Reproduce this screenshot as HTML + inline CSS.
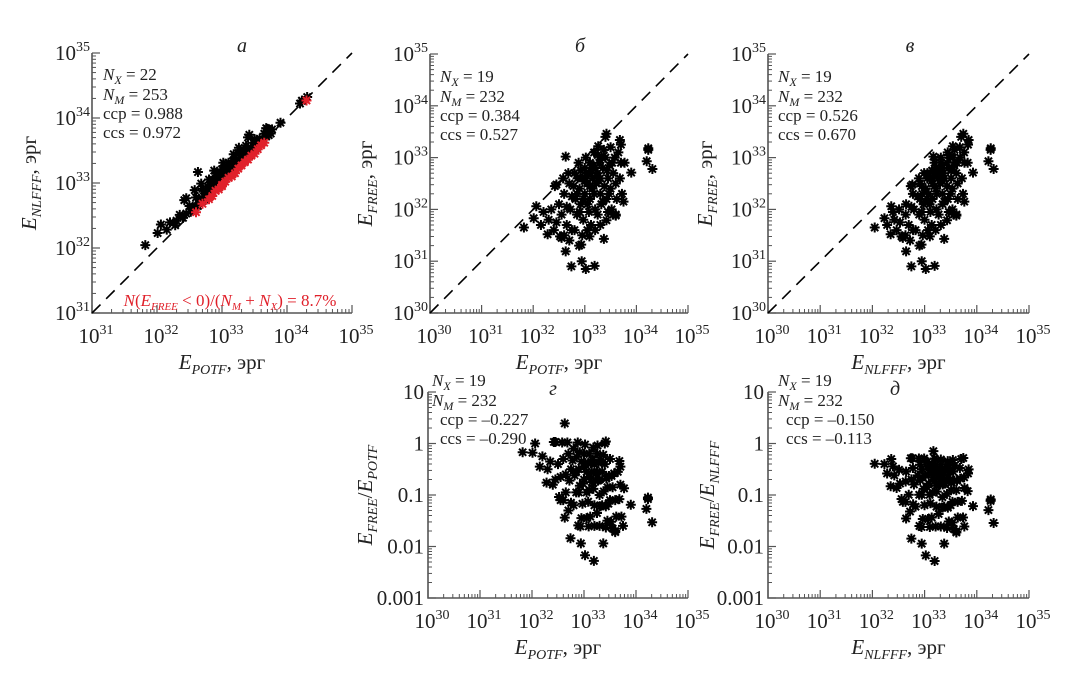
<!DOCTYPE html>
<html><head><meta charset="utf-8">
<style>
html,body{margin:0;padding:0;background:#fff;}
svg{display:block;font-family:"Liberation Serif","DejaVu Serif",serif;}
svg text{font-family:"Liberation Serif","DejaVu Serif",serif;}
</style></head>
<body>
<svg id="chart" width="1073" height="675" viewBox="0 0 1073 675" font-family="Liberation Serif, DejaVu Serif, serif" xmlns="http://www.w3.org/2000/svg"></svg>
<script>
// event data: log10 E_POTF and log10 E_FREE (erg)
const logPot = [31.82,32.74,32.94,33.02,33.19,32.63,32.89,32.93,32.28,32.55,32.52,33.09,33.37,33.42,33.6,33.55,34.23,34.23,34.2,34.31,33.9,33.77,33.42,33.4,33.68,33.7,33.26,32.63,32.06,32.01,32.45,32.42,32.2,32.3,32.15,
32.5,32.55,32.6,32.65,32.7,32.72,32.75,32.8,32.82,32.85,32.88,32.9,32.92,32.95,32.97,33.0,33.0,33.02,33.05,33.05,33.08,33.1,33.1,33.12,33.15,33.15,33.18,33.2,33.2,33.22,33.25,33.25,33.28,33.3,33.3,33.32,33.35,33.38,33.4,33.42,33.45,33.48,33.5,33.52,33.55,33.58,33.6,33.62,33.65,33.68,33.7,33.72,33.75,32.6,32.7,32.8,32.95,33.05,33.2,33.3,32.45,32.35,32.4,32.58,32.68,32.78,32.86,33.03,33.13,33.17,33.23,33.27,33.33,33.37,33.43,33.47,33.53,32.98,32.9,33.08,33.18,33.35,33.45,33.6,32.65,32.85,32.75,33.1,33.0,32.92,33.25,33.5];
const logFree = [31.65,30.90,31.0,30.85,30.91,31.19,31.30,31.32,31.52,31.45,31.48,31.48,31.43,31.79,31.88,31.9,33.18,33.15,32.93,32.78,32.71,32.9,33.46,33.4,33.34,33.25,33.22,33.02,32.06,31.83,32.48,32.45,31.95,31.8,31.7,
32.1,31.9,32.3,31.7,32.5,32.0,31.6,32.7,32.2,31.9,32.9,32.4,32.1,32.6,31.8,32.8,32.3,33.0,32.5,32.1,32.7,32.9,32.2,31.7,32.6,32.4,33.1,32.8,32.0,32.5,32.7,31.9,32.9,32.3,32.6,32.1,32.8,32.45,33.0,32.2,32.6,32.85,32.4,32.0,32.7,33.0,32.5,32.2,33.1,32.6,32.9,32.3,32.15,31.5,31.4,31.6,31.5,31.6,31.6,31.7,31.75,32.0,31.6,32.6,32.7,32.45,32.6,32.65,32.75,32.85,32.65,32.55,33.0,33.15,32.75,32.3,32.9,32.2,31.95,31.95,32.3,32.15,31.95,31.9,32.05,32.3,32.25,32.45,32.55,32.75,33.05,33.2];
// events with E_FREE < 0 (panel a, red): log10 E_POTF, log10 E_NLFFF
const redPot = [32.6,32.7,32.8,32.9,33.0,33.05,33.1,33.2,33.25,33.3,33.4,33.5,33.55,33.6,33.65,32.95,33.15,33.35,33.45,34.3,33.0,32.85];
const redNl  = [32.55,32.68,32.75,32.88,32.95,33.02,33.08,33.15,33.22,33.27,33.36,33.45,33.52,33.58,33.62,32.9,33.1,33.32,33.42,34.27,32.97,32.8];
const logNl = logPot.map((p,i)=>Math.log10(Math.pow(10,p)+Math.pow(10,logFree[i])));

const NS="http://www.w3.org/2000/svg";
const FF="Liberation Serif, DejaVu Serif, serif";
const svg=document.getElementById('chart');
function el(tag,attrs,parent){const e=document.createElementNS(NS,tag);for(const k in attrs)e.setAttribute(k,attrs[k]);if(tag==='text')e.setAttribute('font-family',FF);(parent||svg).appendChild(e);return e;}

function powLabel(g,x,y,exp,anchor){
  const t=el('text',{x:x,y:y,'font-size':21,'text-anchor':anchor||'middle',fill:'#222'},g);
  t.appendChild(document.createTextNode('10'));
  const s=el('tspan',{'font-size':14,dy:-9},t);s.textContent=exp;
  return t;
}

function panel(c){
  const g=el('g',{});
  
  
  const X=v=>c.x0+(v-c.xr[0])/(c.xr[1]-c.xr[0])*(c.x1-c.x0);
  const Y=v=>c.y1-(v-c.yr[0])/(c.yr[1]-c.yr[0])*(c.y1-c.y0);
  const ax=el('path',{d:`M${c.x0},${c.y0}V${c.y1}H${c.x1}`,stroke:'#555','stroke-width':1.6,fill:'none'},g);
  
  
  for(let d=c.xr[0];d<=c.xr[1];d++){
    el('line',{x1:X(d),x2:X(d),y1:c.y1,y2:c.y1-8,stroke:'#555','stroke-width':1.2},g);
    const lb=powLabel(g,X(d)+4,c.y1+30,d);
    
    
    if(d<c.xr[1])for(let k=2;k<10;k++){const xv=X(d+Math.log10(k));el('line',{x1:xv,x2:xv,y1:c.y1,y2:c.y1-4,stroke:'#555','stroke-width':1},g);}
  }
  for(let d=c.yr[0];d<=c.yr[1];d++){
    el('line',{x1:c.x0,x2:c.x0+8,y1:Y(d),y2:Y(d),stroke:'#555','stroke-width':1.2},g);
    let lb;
    if(c.ratio){lb=el('text',{x:c.x0-4,y:Y(d)+7,'font-size':21,'text-anchor':'end',fill:'#222'},g);lb.textContent=c.ylabs[d-c.yr[0]];}
    else{lb=powLabel(g,c.x0-2,Y(d)+7,d,'end');}
    
    
    if(d<c.yr[1])for(let k=2;k<10;k++){const yv=Y(d+Math.log10(k));el('line',{x1:c.x0,x2:c.x0+4,y1:yv,y2:yv,stroke:'#555','stroke-width':1},g);}
  }
  if(c.diag){
    const lo=Math.max(c.xr[0],c.yr[0]),hi=Math.min(c.xr[1],c.yr[1]);
    const dl=el('line',{x1:X(lo),y1:Y(lo),x2:X(hi),y2:Y(hi),stroke:'#000','stroke-width':1.6,'stroke-dasharray':'12 8'},g);
    
    
  }
  function star(x,y,col){
    const s=el('path',{d:`M${x-5},${y}h10M${x},${y-5}v10M${x-3.6},${y-3.6}l7.2,7.2M${x-3.6},${y+3.6}l7.2,-7.2`,stroke:col,'stroke-width':2,fill:'none'},g);
    
    
  }
  c.xs.forEach((xv,i)=>star(X(xv),Y(c.ys[i]),'#000'));
  if(c.rx)c.rx.forEach((xv,i)=>star(X(xv),Y(c.ry[i]),'#e0202a'));
  const tt=el('text',{x:c.tx,y:c.ty,'font-size':20,'font-style':'italic','text-anchor':'middle',fill:'#222'},g);
  tt.textContent=c.title;
  
  
  const st=el('g',{'font-size':17,fill:'#222'},g);
  
  
  const s1=el('text',{x:c.sx,y:c.sy},st);
  s1.innerHTML='<tspan font-style="italic">N</tspan><tspan font-style="italic" font-size="12" dy="4">X</tspan><tspan dy="-4"> = '+c.nx+'</tspan>';
  const s2=el('text',{x:c.sx,y:c.sy+20},st);
  s2.innerHTML='<tspan font-style="italic">N</tspan><tspan font-style="italic" font-size="12" dy="4">M</tspan><tspan dy="-4"> = '+c.nm+'</tspan>';
  const s3=el('text',{x:c.sx+c.ind,y:c.sy+39},st);s3.textContent='ccp = '+c.ccp;
  const s4=el('text',{x:c.sx+c.ind,y:c.sy+58},st);s4.textContent='ccs = '+c.ccs;
  const xt=el('text',{x:(c.x0+c.x1)/2,y:c.y1+56,'font-size':21,'text-anchor':'middle',fill:'#222'},g);
  xt.innerHTML='<tspan font-style="italic">E</tspan><tspan font-style="italic" font-size="14" dy="5">'+c.xsub+'</tspan><tspan dy="-5">, эрг</tspan>';
  
  
  const yc=(c.y0+c.y1)/2;
  const yt=el('text',{x:c.ylx,y:yc,'font-size':21,'text-anchor':'middle',fill:'#222',transform:`rotate(-90 ${c.ylx} ${yc})`},g);
  yt.innerHTML=c.ylab;
  
  
  return {g,X,Y};
}

const sub=(s)=>'<tspan font-style="italic" font-size="14" dy="5">'+s+'</tspan><tspan dy="-5">';
const pa=panel({name:'panel-a',x0:92,x1:352,y0:53,y1:313,xr:[31,35],yr:[31,35],diag:true,xs:logPot,ys:logNl,rx:redPot,ry:redNl,
 title:'а',tx:242,ty:52,sx:103,sy:80,ind:0,nx:22,nm:253,ccp:'0.988',ccs:'0.972',xsub:'POTF',
 ylx:36,ylab:'<tspan font-style="italic">E</tspan>'+sub('NLFFF')+', эрг</tspan>'});
const red=el('text',{x:230,y:306,'font-size':17,'text-anchor':'middle',fill:'#e0202a'},pa.g);
red.innerHTML='<tspan font-style="italic">N</tspan>(<tspan font-style="italic">E</tspan><tspan font-style="italic" font-size="11" dy="4">FREE</tspan><tspan dy="-4"> &lt; 0)/(</tspan><tspan font-style="italic">N</tspan><tspan font-style="italic" font-size="11" dy="4">M</tspan><tspan dy="-4"> + </tspan><tspan font-style="italic">N</tspan><tspan font-style="italic" font-size="11" dy="4">X</tspan><tspan dy="-4">) = 8.7%</tspan>';



panel({name:'panel-b',x0:430,x1:688,y0:54,y1:313,xr:[30,35],yr:[30,35],diag:true,xs:logPot,ys:logFree,
 title:'б',tx:580,ty:52,sx:440,sy:82,ind:0,nx:19,nm:232,ccp:'0.384',ccs:'0.527',xsub:'POTF',
 ylx:372,ylab:'<tspan font-style="italic">E</tspan>'+sub('FREE')+', эрг</tspan>'});
panel({name:'panel-v',x0:768,x1:1029,y0:54,y1:313,xr:[30,35],yr:[30,35],diag:true,xs:logNl,ys:logFree,
 title:'в',tx:910,ty:52,sx:778,sy:82,ind:0,nx:19,nm:232,ccp:'0.526',ccs:'0.670',xsub:'NLFFF',
 ylx:712,ylab:'<tspan font-style="italic">E</tspan>'+sub('FREE')+', эрг</tspan>'});
const ratioG=logFree.map((f,i)=>f-logPot[i]);
const ratioD=logFree.map((f,i)=>f-logNl[i]);
const ylabs=['0.001','0.01','0.1','1','10'];
panel({name:'panel-g',x0:428,x1:688,y0:392,y1:598,xr:[30,35],yr:[-3,1],ratio:true,ylabs:ylabs,xs:logPot,ys:ratioG,
 title:'г',tx:553,ty:395,sx:432,sy:386,ind:8,nx:19,nm:232,ccp:'–0.227',ccs:'–0.290',xsub:'POTF',
 ylx:372,ylab:'<tspan font-style="italic">E</tspan>'+sub('FREE')+'/</tspan><tspan font-style="italic">E</tspan>'+sub('POTF')+'</tspan>'});
panel({name:'panel-d',x0:768,x1:1029,y0:392,y1:598,xr:[30,35],yr:[-3,1],ratio:true,ylabs:ylabs,xs:logNl,ys:ratioD,
 title:'д',tx:895,ty:395,sx:778,sy:386,ind:8,nx:19,nm:232,ccp:'–0.150',ccs:'–0.113',xsub:'NLFFF',
 ylx:714,ylab:'<tspan font-style="italic">E</tspan>'+sub('FREE')+'/</tspan><tspan font-style="italic">E</tspan>'+sub('NLFFF')+'</tspan>'});
</script>
</body></html>
